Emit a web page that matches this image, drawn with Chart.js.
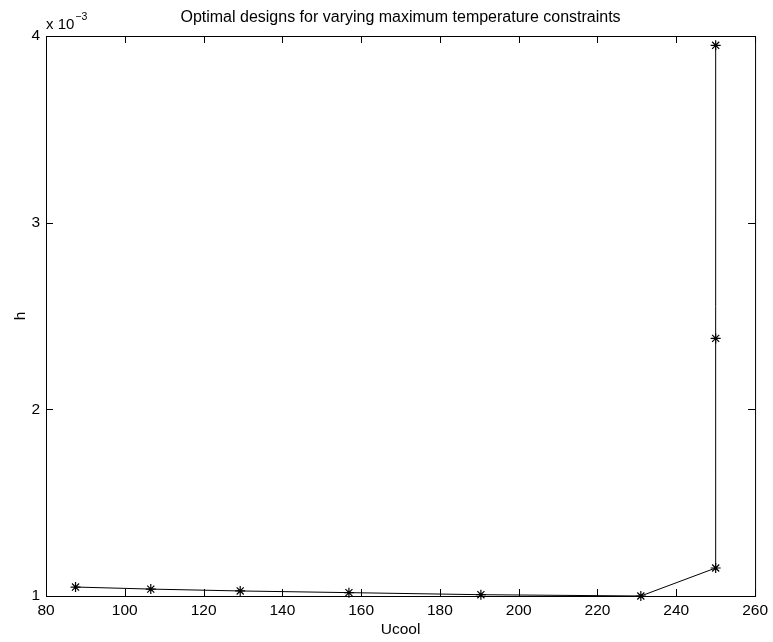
<!DOCTYPE html>
<html>
<head>
<meta charset="utf-8">
<title>Optimal designs for varying maximum temperature constraints</title>
<script src="https://cdn.jsdelivr.net/npm/chart.js@4.4.1/dist/chart.umd.min.js"></script>
<style>
  html, body { margin: 0; padding: 0; background: #fff; }
  #wrap { width: 773px; height: 642px; }
</style>
</head>
<body>
<div id="wrap"><canvas id="chart"></canvas></div>
<script>
// Data
const ucool = [87.5, 106.6, 129.3, 156.9, 190.4, 231, 250, 250, 250];
const h = [1.048e-3, 1.037e-3, 1.027e-3, 1.018e-3, 1.007e-3, 1.0e-3, 1.15e-3, 2.38e-3, 3.95e-3];

// Axis settings
const xRange = [80, 260];
const xStep = 20;
const yRange = [1e-3, 4e-3];
const yStep = 1e-3;

const titleText = "Optimal designs for varying maximum temperature constraints";
const xLabel = "Ucool";
const yLabel = "h";

const FONT = "'Liberation Sans', Arial, Helvetica, sans-serif";
Chart.defaults.font.family = FONT;
Chart.defaults.font.size = 15.5;
Chart.defaults.color = "#000";

// MATLAB style box with inward ticks + the "x 10^-3" exponent label
const matlabBox = {
  id: "matlabBox",
  beforeDatasetsDraw(chart) {
    const { ctx, chartArea: a, scales: { x, y } } = chart;
    const len = 7;
    ctx.save();
    ctx.strokeStyle = "#000";
    ctx.lineWidth = 1;
    ctx.strokeRect(a.left + 0.5, a.top + 0.5, a.right - a.left, a.bottom - a.top);
    ctx.beginPath();
    x.ticks.forEach(t => {
      const px = Math.round(x.getPixelForValue(t.value)) + 0.5;
      ctx.moveTo(px, a.bottom);
      ctx.lineTo(px, a.bottom - len);
      ctx.moveTo(px, a.top);
      ctx.lineTo(px, a.top + len);
    });
    y.ticks.forEach(t => {
      const py = Math.round(y.getPixelForValue(t.value)) + 0.5;
      ctx.moveTo(a.left, py);
      ctx.lineTo(a.left + len, py);
      ctx.moveTo(a.right, py);
      ctx.lineTo(a.right - len, py);
    });
    ctx.stroke();
    ctx.restore();
  },
  afterDraw(chart) {
    const { ctx, chartArea: a } = chart;
    ctx.save();
    ctx.fillStyle = "#000";
    ctx.textBaseline = "alphabetic";
    ctx.font = "15px " + FONT;
    ctx.fillText("x 10", a.left, 29);
    const w = ctx.measureText("x 10").width;
    ctx.font = "10.5px " + FONT;
    ctx.fillText("\u22123", a.left + w + 1, 20);
    ctx.restore();
  }
};

new Chart(document.getElementById("chart"), {
  type: "scatter",
  data: {
    datasets: [{
      data: ucool.map((u, i) => ({ x: u, y: h[i] })),
      showLine: true,
      borderColor: "#000",
      borderWidth: 1,
      pointStyle: "star",
      pointRadius: 5,
      pointBorderColor: "#000",
      pointBorderWidth: 1.2,
      pointBackgroundColor: "#000",
      clip: false
    }]
  },
  options: {
    responsive: true,
    maintainAspectRatio: false,
    animation: false,
    devicePixelRatio: 1,
    layout: { padding: { left: 0, right: 16, top: 0, bottom: 0 } },
    plugins: {
      legend: { display: false },
      tooltip: { enabled: false },
      title: {
        display: true,
        text: titleText,
        fullSize: false,
        color: "#000",
        font: { size: 16, weight: "normal" },
        padding: { top: 7.5, bottom: 9.3 }
      }
    },
    scales: {
      x: {
        type: "linear",
        min: xRange[0],
        max: xRange[1],
        grid: { display: false, drawTicks: false },
        border: { display: false },
        ticks: { stepSize: xStep, padding: 5, maxRotation: 0 },
        title: { display: true, text: xLabel, padding: { top: 0, bottom: 3 } },
        afterFit(scale) { scale.height = 46; }
      },
      y: {
        type: "linear",
        min: yRange[0],
        max: yRange[1],
        grid: { display: false, drawTicks: false },
        border: { display: false },
        ticks: {
          stepSize: yStep,
          padding: 6,
          callback: v => String(Math.round(v * 1000))
        },
        title: { display: true, text: yLabel, padding: { top: 11, bottom: 0 } },
        afterFit(scale) { scale.width = 46; }
      }
    }
  },
  plugins: [matlabBox]
});
</script>
</body>
</html>
